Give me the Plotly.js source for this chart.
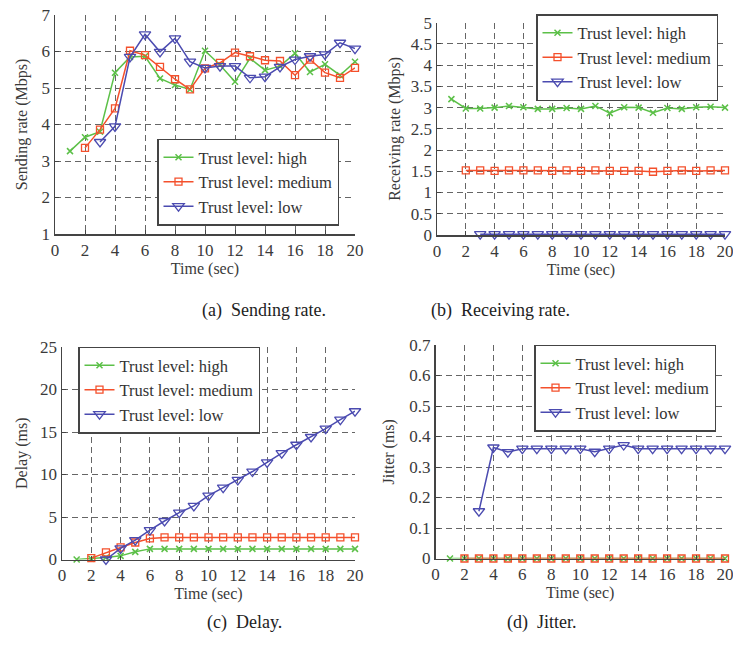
<!DOCTYPE html>
<html>
<head>
<meta charset="utf-8">
<script src="https://cdn.plot.ly/plotly-3.0.1.min.js"></script>
<style>html,body{margin:0;padding:0;background:#fff;}#chart{width:733px;height:646px;}</style>
</head>
<body>
<div id="chart"></div>
<script>
// ---- Data ----
const timeHigh = [1,2,3,4,5,6,7,8,9,10,11,12,13,14,15,16,17,18,19,20];
const timeMed  = [2,3,4,5,6,7,8,9,10,11,12,13,14,15,16,17,18,19,20];
const timeLow  = [3,4,5,6,7,8,9,10,11,12,13,14,15,16,17,18,19,20];

// (a) Sending rate (Mbps)
const sendHigh = [3.27,3.65,3.8,5.42,5.85,5.87,5.26,5.08,4.96,6.02,5.63,5.17,5.81,5.49,5.6,5.95,5.44,5.65,5.35,5.72];
const sendMed  = [3.36,3.86,4.44,6.02,5.9,5.58,5.24,4.96,5.54,5.69,5.97,5.87,5.76,5.74,5.35,5.78,5.42,5.28,5.55];
const sendLow  = [3.52,3.95,5.85,6.47,5.99,6.36,5.72,5.55,5.6,5.6,5.28,5.31,5.58,5.78,5.87,5.92,6.24,6.08];

// (b) Receiving rate (Mbps)
const recvHigh = [3.2,2.98,2.98,3.0,3.04,3.01,2.97,2.97,2.99,2.97,3.04,2.87,3.01,3.0,2.88,2.99,2.97,3.01,3.02,3.0];
const recvMed  = [1.52,1.52,1.51,1.52,1.52,1.52,1.51,1.52,1.51,1.52,1.51,1.51,1.51,1.49,1.51,1.52,1.51,1.52,1.52];
const recvLow  = [0.02,0.02,0.02,0.02,0.02,0.02,0.02,0.02,0.02,0.02,0.02,0.02,0.02,0.02,0.02,0.02,0.02,0.02];

// (c) Delay (ms)
const delayHigh = [0,0.08,0.24,0.43,0.9,1.25,1.25,1.25,1.25,1.25,1.25,1.25,1.25,1.25,1.25,1.25,1.25,1.25,1.25,1.25];
const delayMed  = [0.16,0.83,1.42,2.0,2.48,2.6,2.6,2.6,2.6,2.6,2.6,2.6,2.6,2.6,2.6,2.6,2.6,2.6,2.6];
const delayLow  = [0.0,1.3,2.28,3.46,4.53,5.51,6.3,7.52,8.46,9.37,10.35,11.42,12.52,13.5,14.41,15.39,16.46,17.44];

// (d) Jitter (ms)
const jitHigh = [0,0,0,0,0,0,0,0,0,0,0,0,0,0,0,0,0,0,0,0];
const jitMed  = [0,0,0,0,0,0,0,0,0,0,0,0,0,0,0,0,0,0,0];
const jitLow  = [0.155,0.364,0.349,0.36,0.36,0.36,0.36,0.36,0.35,0.36,0.372,0.36,0.36,0.36,0.36,0.36,0.36,0.36];

const seriesNames = ["Trust level: high","Trust level: medium","Trust level: low"];
const xTickVals = [0,2,4,6,8,10,12,14,16,18,20];
const captions = ["(a)  Sending rate.","(b)  Receiving rate.","(c)  Delay.","(d)  Jitter."];
const yTitles = ["Sending rate (Mbps)","Receiving rate (Mbps)","Delay (ms)","Jitter (ms)"];

// ---- Styling ----
const W = 733, H = 646;
const FONT = "Liberation Serif";
const GREEN = "#5cc048", RED = "#f4502c", BLUE = "#4b4bb0";
const TXT = "#3a3a3a";
const px = v => v / W;
const py = v => (H - v) / H;

function mk(x, y, kind, xa, ya, leg) {
  const base = {x, y, type: "scatter", mode: "lines+markers", xaxis: xa, yaxis: ya,
    legend: leg, showlegend: true, cliponaxis: false, name: seriesNames[kind]};
  if (kind === 0) {
    base.line = {color: GREEN, width: 1.5};
    base.marker = {symbol: "x-thin", size: 6, color: GREEN, line: {color: GREEN, width: 1.5}};
  } else if (kind === 1) {
    base.line = {color: RED, width: 1.5};
    base.marker = {symbol: "square-open", size: 7, color: RED, line: {width: 1.3}};
  } else {
    base.line = {color: BLUE, width: 1.5};
    base.marker = {symbol: "triangle-down-open", size: 10, color: BLUE, line: {width: 1.3}};
  }
  return base;
}

const data = [
  mk(timeHigh, sendHigh, 0, "x", "y", "legend"),
  mk(timeMed, sendMed, 1, "x", "y", "legend"),
  mk(timeLow, sendLow, 2, "x", "y", "legend"),
  mk(timeHigh, recvHigh, 0, "x2", "y2", "legend2"),
  mk(timeMed, recvMed, 1, "x2", "y2", "legend2"),
  mk(timeLow, recvLow, 2, "x2", "y2", "legend2"),
  mk(timeHigh, delayHigh, 0, "x3", "y3", "legend3"),
  mk(timeMed, delayMed, 1, "x3", "y3", "legend3"),
  mk(timeLow, delayLow, 2, "x3", "y3", "legend3"),
  mk(timeHigh, jitHigh, 0, "x4", "y4", "legend4"),
  mk(timeMed, jitMed, 1, "x4", "y4", "legend4"),
  mk(timeLow, jitLow, 2, "x4", "y4", "legend4")
];

const GRID = {showgrid: true, gridcolor: "#666", griddash: "6px,4px", gridwidth: 1,
  showline: true, linecolor: "#444", linewidth: 1.5, zeroline: false,
  ticks: "inside", ticklen: 4, tickcolor: "#444",
  tickfont: {family: FONT, size: 17, color: TXT}};

function xax(d0, d1, anchor) {
  return Object.assign({domain: [px(d0), px(d1)], anchor, range: [0, 20], tickvals: xTickVals,
    ticklabeloverflow: "allow",
    title: {text: "Time (sec)", font: {family: FONT, size: 16, color: TXT}, standoff: 1}}, GRID);
}
function yax(d0, d1, anchor, range, dtick, title, standoff) {
  return Object.assign({domain: [py(d1), py(d0)], anchor, range, dtick,
    title: {text: title, font: {family: FONT, size: 16, color: TXT}, standoff}}, GRID);
}
function leg(x, y, anchor) {
  return {x: px(x), y: py(y), xanchor: "left", yanchor: anchor,
    bgcolor: "#fff", bordercolor: "#444", borderwidth: 1.5,
    font: {family: FONT, size: 16.5, color: "#333"}, tracegroupgap: 0};
}

function cap(text, x, y) {
  return {text, x: px(x), y: py(y), xref: "paper", yref: "paper", showarrow: false,
    font: {family: FONT, size: 18, color: "#222"}};
}

const layout = {
  width: W, height: H, margin: {l: 0, r: 0, t: 0, b: 0},
  paper_bgcolor: "#fff", plot_bgcolor: "#fff",
  xaxis: xax(55, 355, "y"),
  yaxis: yax(15, 234, "x", [1, 7], 1, yTitles[0], 10),
  xaxis2: xax(437, 725, "y2"),
  yaxis2: yax(22.7, 235, "x2", [0, 5], 0.5, yTitles[1], 6),
  xaxis3: xax(62, 355, "y3"),
  yaxis3: yax(347, 559.5, "x3", [0, 25], 5, yTitles[2], 8),
  xaxis4: xax(435.5, 725, "y4"),
  yaxis4: yax(345, 558.5, "x4", [0, 0.7], 0.1, yTitles[3], 10),
  legend: leg(157, 182, "middle"),
  legend2: leg(536, 101, "bottom"),
  legend3: leg(78, 390, "middle"),
  legend4: leg(534, 388, "middle"),
  annotations: [
    cap(captions[0], 200, 310),
    cap(captions[1], 572, 310),
    cap(captions[2], 205, 635),
    cap(captions[3], 579, 635)
  ]
};

Plotly.newPlot("chart", data, layout, {staticPlot: true, displayModeBar: false});
</script>
</body>
</html>
